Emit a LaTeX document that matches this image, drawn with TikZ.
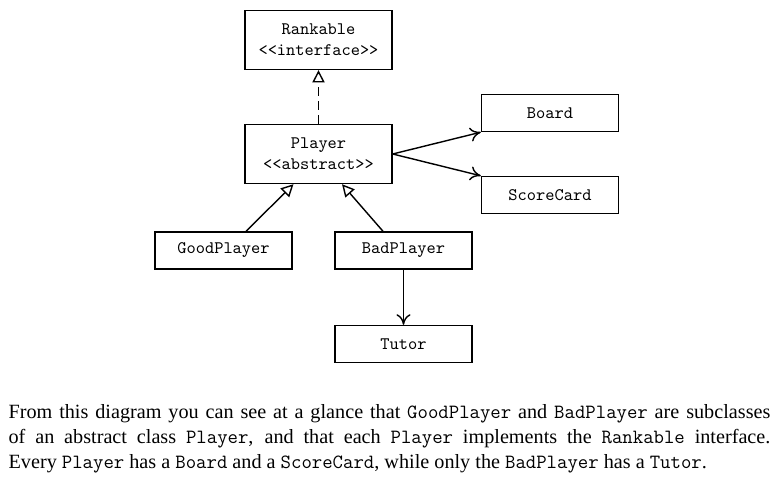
\documentclass[tikz,border=0pt]{standalone}
\usepackage{fontspec}
\setmainfont{Liberation Serif}
\usepackage{tikz}
\usetikzlibrary{positioning,arrows.meta}
\tikzstyle{umlDiagram} = [x = .02cm, y = -.02cm, line width = .7pt]
\tikzstyle{classBox} = [draw, thick, fill=white, align=center, font=\ttfamily, minimum width = 2.74cm, minimum height = .74cm, inner sep = 2pt]
\tikzstyle{stereoBox} = [classBox, minimum width = 2.94cm, minimum height = 1.18cm]
\tikzstyle{inheritArrow} = [-{Triangle[open, length = 7pt, width = 7pt]}, thick]
\tikzstyle{realizeArrow} = [inheritArrow, dashed, dash pattern = on 5pt off 3pt]
\tikzstyle{hasArrow} = [-{To[length = 6pt, width = 8pt]}, thick]
\tikzstyle{captionText} = [anchor = north west, inner sep = 0pt, text width = 15.24cm, align = justify, font = \fontsize{11.5}{14.2}\selectfont]
\newcommand{\stereo}[2]{#1\\{<}{<}#2{>}{>}}
\newcommand{\code}[1]{{\ttfamily #1}}
\begin{document}
\begin{tikzpicture}[umlDiagram]
  \useasboundingbox (0,0) rectangle (775,489);

  \node [stereoBox] (rankable) at (318.5,40) {\stereo{Rankable}{interface}};
  \node [stereoBox] (player) at (318.5,154) {\stereo{Player}{abstract}};
  \node [classBox] (goodPlayer) at (223.5,250.5) {GoodPlayer};
  \node [classBox] (badPlayer) at (403.5,250.5) {BadPlayer};
  \node [classBox] (tutor) at (403.5,344) {Tutor};
  \node [classBox] (board) at (550,113) {Board};
  \node [classBox] (scoreCard) at (550,195) {ScoreCard};

  \draw [realizeArrow] (player) -- (rankable);
  \draw [inheritArrow] ([xshift = .45cm]goodPlayer.north) -- ([xshift = -.5cm]player.south);
  \draw [inheritArrow] ([xshift = -.41cm]badPlayer.north) -- ([xshift = .47cm]player.south);
  \draw [hasArrow] (badPlayer) -- (tutor);
  \draw [hasArrow] (player.east) -- (board.south west);
  \draw [hasArrow] (player.east) -- (scoreCard.north west);

  \node [captionText] (caption) at (8,404) {From this diagram you can see at a glance that \code{GoodPlayer} and \code{BadPlayer} are subclasses\linebreak
    of an abstract class \code{Player}, and that each \code{Player} implements the \code{Rankable} interface.\linebreak
    Every \code{Player} has a \code{Board} and a \code{ScoreCard}, while only the \code{BadPlayer} has a \code{Tutor}.};
\end{tikzpicture}
\end{document}
